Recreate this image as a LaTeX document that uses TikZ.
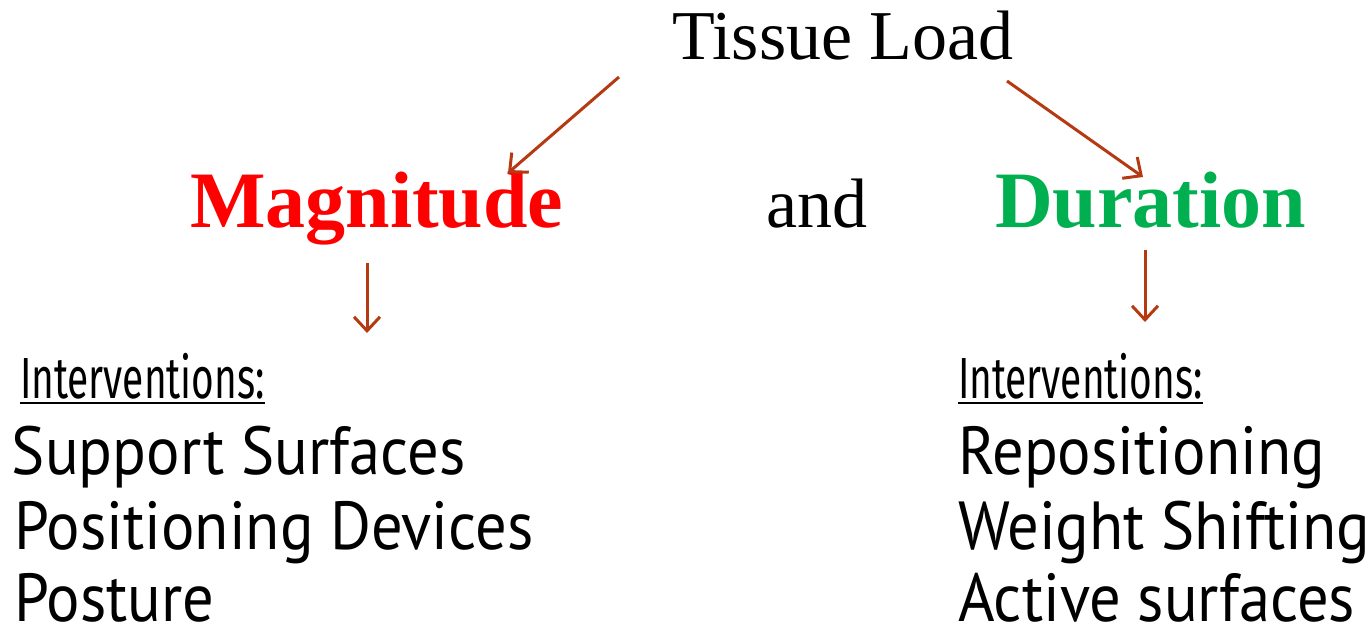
\documentclass[tikz,border=0pt]{standalone}
\usepackage{fontspec}
\usetikzlibrary{arrows.meta}
\setmainfont{Liberation Serif}
\newfontfamily\bodyfont[Ligatures=NoCommon,FakeStretch=0.92]{PT Sans}
\newfontfamily\condfont[FakeStretch=0.67]{Fira Sans}
\definecolor{arrowc}{RGB}{181,58,18}
\definecolor{magred}{RGB}{255,0,0}
\definecolor{durgreen}{RGB}{0,176,80}
\tikzset{
  txt/.style={anchor=base west, inner sep=0pt, outer sep=0pt},
  title/.style={txt, font=\fontsize{70}{80}\selectfont},
  head/.style={txt, font=\fontsize{80}{90}\selectfont\bfseries},
  interv/.style={txt, font=\condfont\fontsize{58}{66}\selectfont},
  item/.style={txt, font=\bodyfont\fontsize{68}{76}\selectfont},
  arr/.style={draw=arrowc, line width=3pt, -{Straight Barb[length=14pt,width=26pt,line width=3pt]}}
}
\begin{document}
\begin{tikzpicture}[x=1pt,y=-1pt]
\useasboundingbox (0,0) rectangle (1371,631);
\node[title] (tl) at (672,60) {Tissue Load};
\node[head, text=magred] (mag) at (190,228) {Magnitude};
\node[title] (and) at (766,228) {and};
\node[head, text=durgreen] (dur) at (995,228) {Duration};
\node[interv] (il) at (20,398) {Interventions:};
\node[interv] (ir) at (958,398) {Interventions:};
\draw[line width=2pt] ([yshift=-5pt]il.base west) -- ([yshift=-5pt]il.base east);
\draw[line width=2pt] ([yshift=-5pt]ir.base west) -- ([yshift=-5pt]ir.base east);
\node[item] (l1) at (12,474) {Support Surfaces};
\node[item] (l2) at (14,549) {Positioning Devices};
\node[item] (l3) at (14,621) {Posture};
\node[item] (r1) at (958,474) {Repositioning};
\node[item] (r2) at (958,549) {Weight Shifting};
\node[item] (r3) at (958,621) {Active surfaces};
\coordinate (a1s) at (619,77);
\coordinate (a1e) at (508,173);
\coordinate (a2s) at (1007,81);
\coordinate (a2e) at (1143,177);
\coordinate (a3s) at (367,263);
\coordinate (a3e) at (367,333);
\coordinate (a4s) at (1145,250);
\coordinate (a4e) at (1145,322);
\draw[arr] (a1s) -- (a1e);
\draw[arr] (a2s) -- (a2e);
\draw[arr] (a3s) -- (a3e);
\draw[arr] (a4s) -- (a4e);
\end{tikzpicture}
\end{document}
